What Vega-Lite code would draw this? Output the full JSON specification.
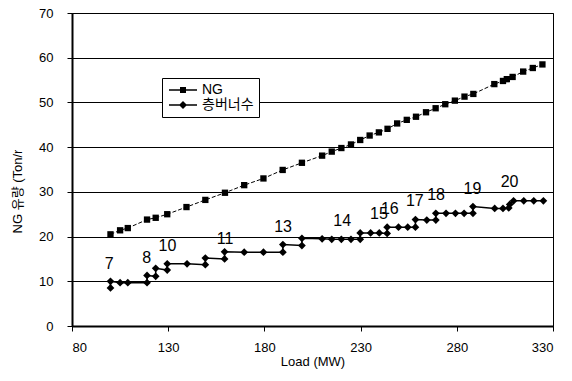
{
  "$schema": "https://vega.github.io/schema/vega-lite/v6.json",
  "width": 481,
  "height": 313,
  "autosize": {"type": "none"},
  "padding": {"left": 72, "top": 13, "right": 19, "bottom": 55},
  "background": "white",
  "config": {
    "view": {"stroke": "black", "strokeWidth": 1},
    "font": "Liberation Sans",
    "axis": {
      "labelFont": "Liberation Sans",
      "labelFontSize": 13,
      "labelColor": "black",
      "titleFont": "Liberation Sans, Noto Sans CJK KR",
      "titleFontSize": 13,
      "titleFontWeight": "normal",
      "titleColor": "black",
      "domainColor": "black",
      "tickColor": "black"
    }
  },
  "datasets": {
    "ng": [
      {"load": 100, "flow": 20.5}, {"load": 105, "flow": 21.4}, {"load": 109, "flow": 21.9},
      {"load": 119, "flow": 23.8}, {"load": 123.5, "flow": 24.2}, {"load": 129.5, "flow": 25.0},
      {"load": 139.5, "flow": 26.6}, {"load": 149.3, "flow": 28.2}, {"load": 159.5, "flow": 29.8},
      {"load": 169.5, "flow": 31.5}, {"load": 179.5, "flow": 33.0}, {"load": 189.5, "flow": 34.9},
      {"load": 199.5, "flow": 36.5}, {"load": 210, "flow": 38.1}, {"load": 215, "flow": 39.0},
      {"load": 220, "flow": 39.8}, {"load": 225, "flow": 40.6}, {"load": 229.8, "flow": 41.6},
      {"load": 234.7, "flow": 42.6}, {"load": 239.5, "flow": 43.3}, {"load": 244, "flow": 44.1},
      {"load": 249, "flow": 45.3}, {"load": 254, "flow": 46.1}, {"load": 258.8, "flow": 46.8},
      {"load": 264, "flow": 47.8}, {"load": 269, "flow": 48.7}, {"load": 274, "flow": 49.6},
      {"load": 279, "flow": 50.4}, {"load": 284, "flow": 51.3}, {"load": 288.6, "flow": 51.9},
      {"load": 299.5, "flow": 54.1}, {"load": 304, "flow": 54.8}, {"load": 306, "flow": 55.2},
      {"load": 309, "flow": 55.7}, {"load": 314.5, "flow": 56.9}, {"load": 319.5, "flow": 57.7},
      {"load": 324.5, "flow": 58.5}
    ],
    "burner": [
      {"load": 100, "flow": 8.5}, {"load": 100, "flow": 10.0}, {"load": 105, "flow": 9.7},
      {"load": 109, "flow": 9.7}, {"load": 119, "flow": 9.7}, {"load": 119, "flow": 11.3},
      {"load": 123.5, "flow": 11.1}, {"load": 123.5, "flow": 12.9}, {"load": 129.5, "flow": 12.5},
      {"load": 129.5, "flow": 13.9}, {"load": 139.8, "flow": 13.9}, {"load": 149.3, "flow": 13.7},
      {"load": 149.3, "flow": 15.2}, {"load": 159.3, "flow": 15.0}, {"load": 159.3, "flow": 16.6},
      {"load": 169.5, "flow": 16.5}, {"load": 179.5, "flow": 16.5}, {"load": 189.6, "flow": 16.5},
      {"load": 189.6, "flow": 18.2}, {"load": 199.5, "flow": 18.0}, {"load": 199.5, "flow": 19.6},
      {"load": 210, "flow": 19.5}, {"load": 215, "flow": 19.4}, {"load": 220, "flow": 19.4},
      {"load": 225, "flow": 19.4}, {"load": 229.8, "flow": 19.4}, {"load": 229.8, "flow": 20.8},
      {"load": 235.2, "flow": 20.8}, {"load": 239.7, "flow": 20.8}, {"load": 243.8, "flow": 20.7},
      {"load": 243.8, "flow": 22.1}, {"load": 249.7, "flow": 22.1}, {"load": 254.5, "flow": 22.1},
      {"load": 258.5, "flow": 22.1}, {"load": 258.5, "flow": 23.8}, {"load": 264.4, "flow": 23.7},
      {"load": 269.1, "flow": 23.7}, {"load": 269.1, "flow": 25.2}, {"load": 274.4, "flow": 25.2},
      {"load": 279.3, "flow": 25.2}, {"load": 283.8, "flow": 25.2}, {"load": 288.4, "flow": 25.2},
      {"load": 288.4, "flow": 26.7}, {"load": 299.7, "flow": 26.3}, {"load": 304, "flow": 26.3},
      {"load": 307, "flow": 26.4}, {"load": 307.5, "flow": 27.2}, {"load": 309.5, "flow": 28.0},
      {"load": 314.8, "flow": 28.0}, {"load": 320, "flow": 28.0}, {"load": 325, "flow": 28.0}
    ],
    "labels": [
      {"label": "7", "load": 99.3, "flow": 13.9}, {"label": "8", "load": 118.8, "flow": 15.2},
      {"label": "10", "load": 129.6, "flow": 17.8}, {"label": "11", "load": 159.6, "flow": 19.5},
      {"label": "13", "load": 189.7, "flow": 22.1}, {"label": "14", "load": 220.4, "flow": 23.5},
      {"label": "15", "load": 239.5, "flow": 25.1}, {"label": "16", "load": 245.2, "flow": 26.1},
      {"label": "17", "load": 258.2, "flow": 28.0}, {"label": "18", "load": 269.2, "flow": 29.3},
      {"label": "19", "load": 288.1, "flow": 30.7}, {"label": "20", "load": 307.4, "flow": 32.1}
    ],
    "legend": [{"series": "NG"}, {"series": "층버너수"}]
  },
  "layer": [
    {
      "data": {"name": "ng"},
      "mark": {"type": "line", "color": "black", "strokeWidth": 1, "strokeDash": [4, 2]},
      "encoding": {
        "x": {
          "field": "load", "type": "quantitative",
          "scale": {"domain": [80, 330], "nice": false, "zero": false},
          "axis": {
            "values": [80, 130, 180, 230, 280, 330], "grid": false, "tickSize": 5,
            "domainWidth": 2, "labelPadding": 10, "title": "Load (MW)", "titlePadding": 1
          }
        },
        "y": {
          "field": "flow", "type": "quantitative",
          "scale": {"domain": [0, 70], "nice": false},
          "axis": {
            "values": [0, 10, 20, 30, 40, 50, 60, 70], "grid": true, "gridColor": "black",
            "gridWidth": 1, "gridOpacity": 1, "tickSize": 5, "labelPadding": 14, "domainWidth": 2,
            "title": "NG 유량 (Ton/r", "titleX": -55, "titleY": 178, "titleAngle": -90,
            "titleAlign": "center", "titleBaseline": "middle"
          }
        }
      }
    },
    {
      "data": {"name": "ng"},
      "mark": {"type": "point", "shape": "square", "filled": true, "color": "black", "size": 40, "opacity": 1},
      "encoding": {
        "x": {"field": "load", "type": "quantitative"},
        "y": {"field": "flow", "type": "quantitative"}
      }
    },
    {
      "data": {"name": "burner"},
      "mark": {"type": "line", "color": "black", "strokeWidth": 1.5},
      "encoding": {
        "x": {"field": "load", "type": "quantitative"},
        "y": {"field": "flow", "type": "quantitative"},
        "order": {"value": null}
      }
    },
    {
      "data": {"name": "burner"},
      "mark": {"type": "point", "shape": "diamond", "filled": true, "color": "black", "size": 60, "opacity": 1},
      "encoding": {
        "x": {"field": "load", "type": "quantitative"},
        "y": {"field": "flow", "type": "quantitative"}
      }
    },
    {
      "data": {"name": "labels"},
      "mark": {"type": "text", "font": "Liberation Sans", "fontSize": 16, "color": "black", "align": "center", "baseline": "middle"},
      "encoding": {
        "x": {"field": "load", "type": "quantitative"},
        "y": {"field": "flow", "type": "quantitative"},
        "text": {"field": "label", "type": "nominal"}
      }
    },
    {
      "data": {"name": "legend"},
      "transform": [{"filter": "datum.series == 'none'"}],
      "mark": {"type": "point", "filled": true, "color": "black", "opacity": 1, "size": 100},
      "encoding": {
        "shape": {
          "field": "series", "type": "nominal",
          "scale": {
            "domain": ["NG", "층버너수"],
            "range": [
              "M-1,-0.13H4.6V0.13H-1ZM1.2,-0.6H2.4V0.6H1.2Z",
              "M-1,-0.13H4.6V0.13H-1ZM1.8,-0.8L2.6,0L1.8,0.8L1,0Z"
            ]
          },
          "legend": {
            "orient": "none", "legendX": 90, "legendY": 65, "title": null,
            "strokeColor": "black", "fillColor": "white", "padding": 5,
            "symbolSize": 100, "symbolFillColor": "black", "symbolOpacity": 1,
            "labelFont": "Liberation Sans, Noto Sans CJK KR", "labelFontSize": 14,
            "labelColor": "black", "labelOffset": 21, "rowPadding": 1
          }
        }
      }
    }
  ]
}
